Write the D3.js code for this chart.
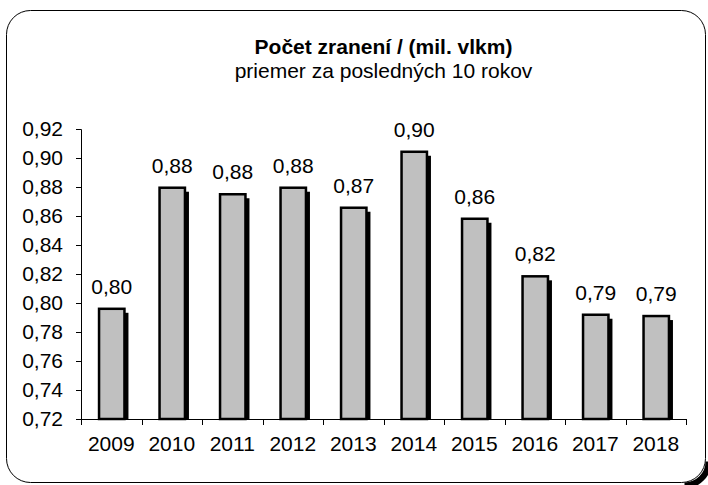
<!DOCTYPE html>
<html>
<head>
<meta charset="utf-8">
<script src="https://cdn.jsdelivr.net/npm/d3@7"></script>
<style>
  body { margin: 0; background: #fff; }
  text { font-family: "Liberation Sans", Arial, sans-serif; fill: #000; }
</style>
</head>
<body>
<div id="chart"></div>
<script>
// Datos
const roky = ["2009", "2010", "2011", "2012", "2013", "2014", "2015", "2016", "2017", "2018"]
const hodnoty = [0.796, 0.8795, 0.875, 0.8795, 0.8657, 0.9043, 0.8581, 0.8184, 0.7919, 0.791]
const yTicks = [0.72, 0.74, 0.76, 0.78, 0.80, 0.82, 0.84, 0.86, 0.88, 0.90, 0.92]
const titulok = "Počet zranení / (mil. vlkm)"
const podtitulok = "priemer za posledných 10 rokov"

// Constantes
const width = 708
const height = 485
const margin = { top: 129, bottom: 66, left: 81, right: 22 }
const innerW = width - margin.left - margin.right
const innerH = height - margin.top - margin.bottom
const fs = "21px"

const fmt = v => d3.format(".2f")(v).replace(".", ",")

const svg = d3.select("#chart")
    .append("svg")
    .attr("width", width)
    .attr("height", height)

const defs = svg.append("defs")
defs.append("filter")
    .attr("id", "soft")
    .attr("x", "-20%").attr("y", "-20%").attr("width", "140%").attr("height", "140%")
    .append("feGaussianBlur")
    .attr("stdDeviation", 0.7)

// Marco redondeado
const marco = { x: 6.5, y: 10.5, w: 699, h: 472, r: 24 }
svg.append("rect")
    .attr("x", marco.x).attr("y", marco.y)
    .attr("width", marco.w).attr("height", marco.h)
    .attr("rx", marco.r)
    .attr("fill", "#fff")
    .attr("stroke", "#000")
    .attr("stroke-width", 1)

// sombra de la esquina inferior derecha
const cx = marco.x + marco.w - marco.r + 3
const cy = marco.y + marco.h - marco.r + 3
svg.append("path")
    .attr("d", `M${cx},${cy + marco.r} A${marco.r},${marco.r} 0 0 0 ${cx + marco.r},${cy}`)
    .attr("fill", "none")
    .attr("stroke", "#000")
    .attr("stroke-width", 6)

// Titulo
svg.append("text")
    .attr("x", margin.left + innerW / 2)
    .attr("y", 54)
    .attr("text-anchor", "middle")
    .style("font-size", fs)
    .style("font-weight", "bold")
    .text(titulok)
svg.append("text")
    .attr("x", margin.left + innerW / 2)
    .attr("y", 78)
    .attr("text-anchor", "middle")
    .style("font-size", fs)
    .text(podtitulok)

// Escalas
const x = d3.scaleBand().domain(roky).range([0, innerW])
const y = d3.scaleLinear().domain([0.72, 0.92]).range([innerH, 0])

const g = svg.append("g")
    .attr("transform", `translate(${margin.left}, ${margin.top})`)

const barW = x.step() * 0.42
const barX = d => x(d.rok) + (x.step() - barW) / 2 + 0.5

const data = roky.map((r, i) => ({ rok: r, v: hodnoty[i] }))

// Sombras
g.selectAll(".sombra")
    .data(data)
    .enter()
    .append("rect")
    .attr("class", "sombra")
    .attr("x", d => barX(d) + 4)
    .attr("y", d => y(d.v) + 4)
    .attr("width", barW)
    .attr("height", d => innerH - y(d.v) - 4)
    .attr("fill", "#000")
    .attr("filter", "url(#soft)")

// Barras
g.selectAll(".barra")
    .data(data)
    .enter()
    .append("rect")
    .attr("class", "barra")
    .attr("x", d => barX(d))
    .attr("y", d => y(d.v))
    .attr("width", barW)
    .attr("height", d => innerH - y(d.v))
    .attr("fill", "#c0c0c0")
    .attr("stroke", "#000")
    .attr("stroke-width", 2.5)

// Etiquetas de valor
g.selectAll(".valor")
    .data(data)
    .enter()
    .append("text")
    .attr("class", "valor")
    .attr("x", d => barX(d) + barW / 2)
    .attr("y", d => y(d.v) - 15)
    .attr("text-anchor", "middle")
    .style("font-size", fs)
    .text(d => fmt(d.v))

// Eje Y
const yAxis = d3.axisLeft(y).tickValues(yTicks).tickSize(5).tickPadding(13).tickFormat(fmt)
const yAxisGroup = g.append("g").call(yAxis)
yAxisGroup.selectAll("text").style("font-size", fs).style("font-family", "Liberation Sans, Arial, sans-serif")
yAxisGroup.select(".domain").attr("d", `M-5,0.5H0.5V${innerH}`)

// Eje X
const xAxis = d3.axisBottom(x).tickSize(0).tickPadding(17)
const xAxisGroup = g.append("g")
    .attr("transform", `translate(0, ${innerH})`)
    .call(xAxis)
xAxisGroup.select(".domain").remove()
xAxisGroup.selectAll("text").style("font-size", fs).style("font-family", "Liberation Sans, Arial, sans-serif")
xAxisGroup.append("line")
    .attr("x1", 0).attr("x2", innerW)
    .attr("y1", 0.5).attr("y2", 0.5)
    .attr("stroke", "#000")
xAxisGroup.selectAll(".limite")
    .data(roky.map(r => x(r)).concat([innerW]))
    .enter()
    .append("line")
    .attr("class", "limite")
    .attr("x1", d => Math.round(d) + 0.5).attr("x2", d => Math.round(d) + 0.5)
    .attr("y1", 0).attr("y2", 6)
    .attr("stroke", "#000")
</script>
</body>
</html>
